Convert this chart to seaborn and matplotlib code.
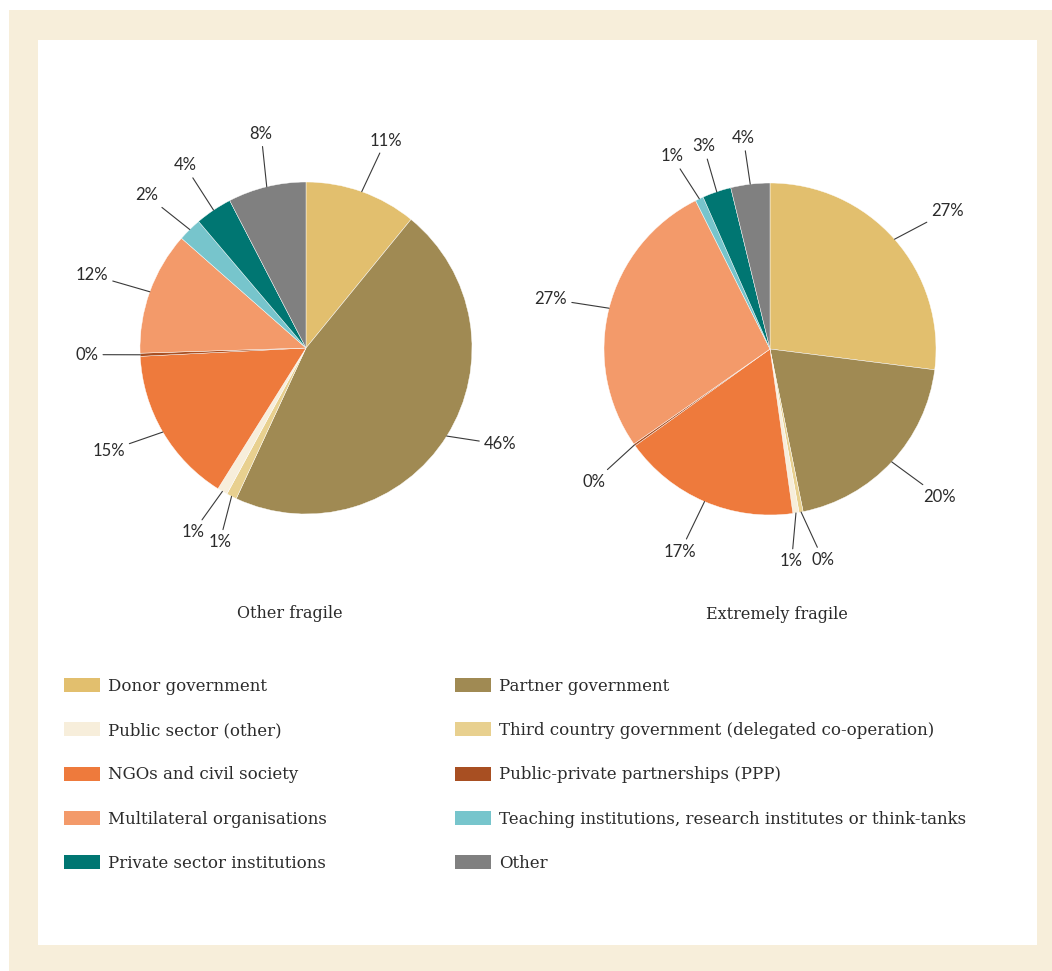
import matplotlib
matplotlib.use("Agg")
import numpy as np
import matplotlib.pyplot as plt
from matplotlib.patches import Rectangle, Patch
import seaborn as sns

# ---- data -------------------------------------------------------------
categories = [
    "Donor government",
    "Partner government",
    "Third country government (delegated co-operation)",
    "Public sector (other)",
    "NGOs and civil society",
    "Public-private partnerships (PPP)",
    "Multilateral organisations",
    "Teaching institutions, research institutes or think-tanks",
    "Private sector institutions",
    "Other",
]
other_fragile = [10.9, 46.0, 1.0, 1.0, 15.3, 0.3, 12.0, 2.3, 3.6, 7.6]
extremely_fragile = [27.0, 19.8, 0.4, 0.6, 17.3, 0.2, 27.3, 0.8, 2.8, 3.8]
pie_titles = ["Other fragile", "Extremely fragile"]

# legend columns (indices into categories)
legend_left = [0, 3, 4, 6, 8]
legend_right = [1, 2, 5, 7, 9]

# ---- style ------------------------------------------------------------
palette = sns.color_palette([
    "#E2BF6E", "#A08A53", "#E8D08F", "#F7EEDB", "#EE7A3C",
    "#A84F22", "#F39A6A", "#77C5CC", "#007672", "#808080",
])
sns.set_theme(style="white")
plt.rcParams["font.family"] = ["DejaVu Serif"]
LABEL_FONT = "Lato"
TEXT_COLOR = "#2b2b2b"
CREAM = "#F7EEDA"

W, H = 1052, 971
R_PX = 166  # pie radius in pixels

# label anchor points, in units of pie radius, relative to pie centre
label_pos = [
    [(0.48, 1.25), (1.17, -0.58), (-0.52, -1.17), (-0.68, -1.11), (-1.19, -0.62),
     (-1.32, -0.04), (-1.29, 0.44), (-0.96, 0.92), (-0.73, 1.10), (-0.27, 1.29)],
    [(1.07, 0.83), (1.02, -0.89), (0.32, -1.27), (0.13, -1.28), (-0.54, -1.22),
     (-1.06, -0.80), (-1.32, 0.30), (-0.59, 1.16), (-0.40, 1.22), (-0.16, 1.27)],
]
pie_centres = [(306, 348), (770, 349)]
title_offsets = [(-0.10, -1.60), (0.04, -1.60)]

fig = plt.figure(figsize=(W / 100, H / 100), dpi=100)
fig.patch.set_facecolor("white")


def fx(x):
    return x / W


def fy(y):
    return 1 - y / H


# cream frame with white panel
fig.patches.append(Rectangle((fx(9), -0.01), 1.01 - fx(9), fy(10) + 0.01,
                             transform=fig.transFigure,
                             facecolor=CREAM, edgecolor="none", zorder=-10))
fig.patches.append(Rectangle((fx(38), fy(945)), fx(1037) - fx(38), fy(40) - fy(945),
                             transform=fig.transFigure, facecolor="white",
                             edgecolor="none", zorder=-9))

HALF = 290  # half-size of each pie axes in px
L = HALF / R_PX
for k, (values, (cx, cy)) in enumerate(zip([other_fragile, extremely_fragile], pie_centres)):
    ax = fig.add_axes([fx(cx - HALF), fy(cy + HALF), 2 * HALF / W, 2 * HALF / H])
    ax.set_facecolor("none")
    ax.patch.set_alpha(0)
    wedges, _ = ax.pie(values, colors=palette, startangle=90, counterclock=False,
                       radius=1.0, center=(0, 0),
                       wedgeprops=dict(linewidth=0.3, edgecolor="white"))
    ax.set_xlim(-L, L)
    ax.set_ylim(-L, L)
    ax.set_aspect("equal")
    ax.axis("off")

    total = float(np.sum(values))
    for i, (w, v) in enumerate(zip(wedges, values)):
        mid = np.deg2rad((w.theta1 + w.theta2) / 2)
        xe, ye = np.cos(mid), np.sin(mid)
        tx, ty = label_pos[k][i]
        ax.annotate(f"{round(100 * v / total):d}%", xy=(xe, ye), xytext=(tx, ty),
                    ha="center", va="center", fontsize=12, family=LABEL_FONT,
                    color=TEXT_COLOR,
                    arrowprops=dict(arrowstyle="-", color="#3a3a3a", lw=0.8,
                                    shrinkA=1, shrinkB=0))
    ox, oy = title_offsets[k]
    ax.text(ox, oy, pie_titles[k], ha="center", va="center", fontsize=11.5,
            color=TEXT_COLOR)

# legend, two columns
fs = 12
fs_px = fs * 100 / 72
for idx, x0 in [(legend_left, 64), (legend_right, 455)]:
    handles = [Patch(facecolor=palette[i], edgecolor="none") for i in idx]
    labels = [categories[i] for i in idx]
    fig.legend(handles, labels, loc="upper left", bbox_to_anchor=(fx(x0), fy(678)),
               frameon=False, borderpad=0, borderaxespad=0, fontsize=fs,
               handlelength=36 / fs_px, handleheight=15 / fs_px,
               handletextpad=8 / fs_px, labelspacing=1.63, labelcolor=TEXT_COLOR)

fig.savefig("out.png", dpi=100, facecolor=fig.get_facecolor())
